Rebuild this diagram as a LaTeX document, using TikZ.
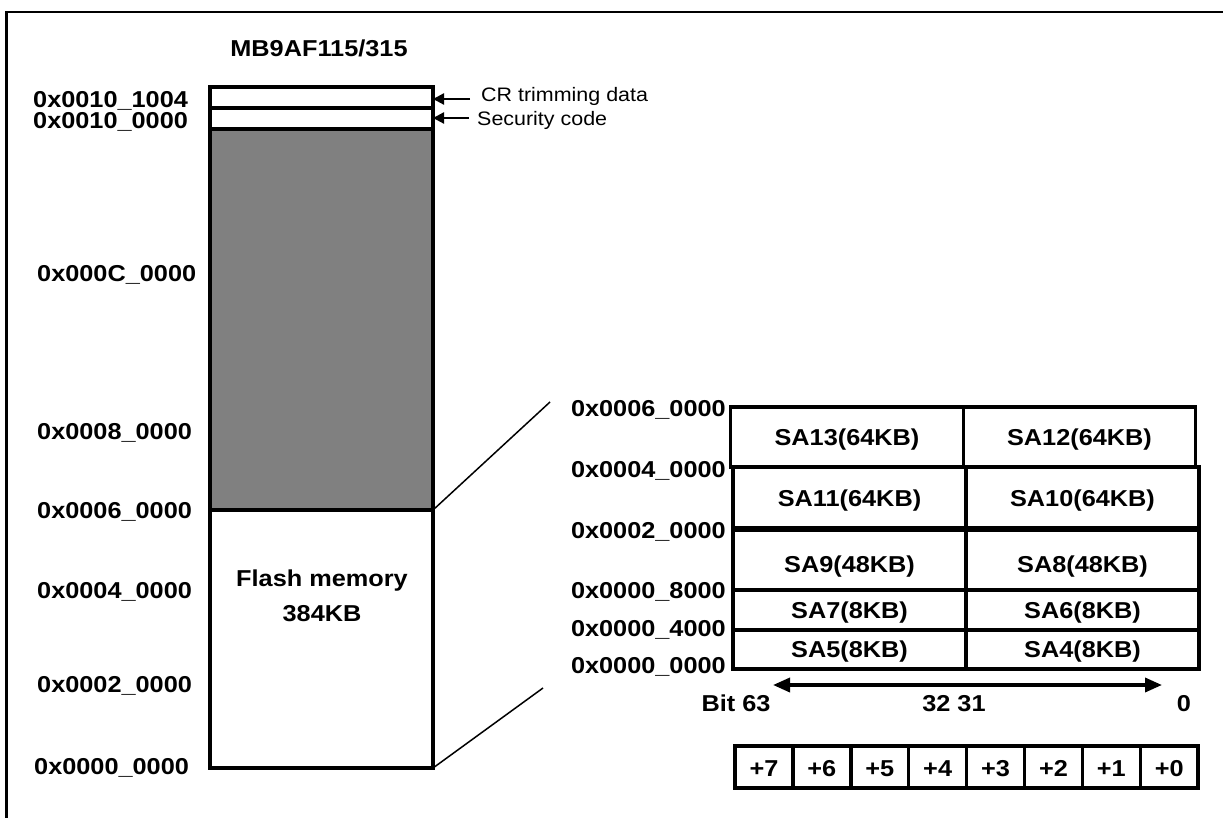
\documentclass[tikz,border=0pt]{standalone}
\usepackage{fontspec}
\newfontfamily\lab[FakeStretch=1.1]{Liberation Sans}
\usetikzlibrary{arrows.meta}
\begin{document}
\begin{tikzpicture}[x=1pt,y=-1pt,
  lbl/.style={font=\lab\bfseries\fontsize{23}{23}\selectfont, inner sep=0pt, text height=16.5pt, text depth=0pt},
  sm/.style={font=\lab\fontsize{19.5}{19.5}\selectfont, inner sep=0pt, text height=14pt, text depth=0pt},
  colbox/.style={draw, line width=4.5pt, minimum width=223pt, inner sep=0pt, outer sep=0pt},
  cell/.style={draw, line width=3.5pt, minimum width=233pt, inner sep=0pt, outer sep=0pt, lbl},
  byte/.style={draw, line width=3.5pt, minimum width=57.9pt, minimum height=42pt, inner sep=0pt, outer sep=0pt, lbl},
  thin/.style={line width=1.5pt},
  frame/.style={line width=2.5pt}
]
\useasboundingbox (0,0) rectangle (1223,818);
% frame
\draw[frame] (1223,12) -- (6.5,12) -- (6.5,818);

% title
\node[lbl] (title) at (319,48) {MB9AF115/315};

% left column
\node[colbox, fill=white, minimum height=21pt] (crbox) at (321.5,97.5) {};
\node[colbox, fill=white, minimum height=21pt] (secbox) at (321.5,118.5) {};
\node[colbox, fill={rgb,255:red,128;green,128;blue,128}, minimum height=381pt] (resbox) at (321.5,319.5) {};
\node[colbox, fill=white, minimum height=258pt] (flash) at (321.5,639) {};
\node[lbl] (fl1) at (322,578) {Flash memory};
\node[lbl] (fl2) at (322,613) {384KB};

% side labels
\node[sm, anchor=west] (crtxt) at (481,95) {CR trimming data};
\node[sm, anchor=west] (sectxt) at (477,119) {Security code};
\draw[line width=2.2pt, -{Triangle[length=11pt,width=11pt]}] (470,99) -- (crbox.east |- 0,99);
\draw[line width=2.2pt, -{Triangle[length=11pt,width=11pt]}] (469,118) -- (secbox.east |- 0,118);

% left address labels
\node[lbl, anchor=west] (a1) at (33,99) {0x0010\_1004};
\node[lbl, anchor=west] (a2) at (33,120) {0x0010\_0000};
\node[lbl, anchor=west] (a3) at (37,273.5) {0x000C\_0000};
\node[lbl, anchor=west] (a4) at (37,431) {0x0008\_0000};
\node[lbl, anchor=west] (a5) at (37,510) {0x0006\_0000};
\node[lbl, anchor=west] (a6) at (37,590) {0x0004\_0000};
\node[lbl, anchor=west] (a7) at (37,684) {0x0002\_0000};
\node[lbl, anchor=west] (a8) at (34,766) {0x0000\_0000};

% zoom lines
\coordinate (zt) at (550,402);
\coordinate (zb) at (543,688);
\draw[thin] (resbox.south east) -- (zt);
\draw[thin] (flash.south east) -- (zb);

% right grid
\node[cell, minimum height=60pt] (sa13) at (847,437) {SA13(64KB)};
\node[cell, minimum height=60pt, minimum width=232pt] (sa12) at (1079.5,437) {SA12(64KB)};
\node[cell, minimum height=62pt] (sa11) at (849.5,498) {SA11(64KB)};
\node[cell, minimum height=62pt] (sa10) at (1082.5,498) {SA10(64KB)};
\node[cell, minimum height=61pt, text height=26.5pt] (sa9) at (849.5,559.5) {SA9(48KB)};
\node[cell, minimum height=61pt, text height=26.5pt] (sa8) at (1082.5,559.5) {SA8(48KB)};
\node[cell, minimum height=40pt] (sa7) at (849.5,610) {SA7(8KB)};
\node[cell, minimum height=40pt] (sa6) at (1082.5,610) {SA6(8KB)};
\node[cell, minimum height=39pt] (sa5) at (849.5,649.5) {SA5(8KB)};
\node[cell, minimum height=39pt] (sa4) at (1082.5,649.5) {SA4(8KB)};
\draw[line width=6.5pt] (sa11.south west) -- (sa10.south east);

% right address labels
\node[lbl, anchor=east] (r1) at (726,408) {0x0006\_0000};
\node[lbl, anchor=east] (r2) at (726,469) {0x0004\_0000};
\node[lbl, anchor=east] (r3) at (726,530) {0x0002\_0000};
\node[lbl, anchor=east] (r4) at (726,590) {0x0000\_8000};
\node[lbl, anchor=east] (r5) at (726,628) {0x0000\_4000};
\node[lbl, anchor=east] (r6) at (726,665) {0x0000\_0000};

% bit arrow
\coordinate (bl) at (773,685);
\coordinate (br) at (1162,685);
\draw[line width=3.5pt, {Triangle[length=17pt,width=14pt]}-{Triangle[length=17pt,width=14pt]}] (bl) -- (br);
\node[lbl] (b63) at (736,703) {Bit 63};
\node[lbl] (b32) at (954,703) {32 31};
\node[lbl] (b0) at (1184,703) {0};

% bytes
\foreach \i/\t in {0/7,1/6,2/5,3/4,4/3,5/2,6/1,7/0}{
  \node[byte, text height=19pt] (by\t) at ({735+57.9*\i+28.95},767) {+\t};
}
\end{tikzpicture}
\end{document}
